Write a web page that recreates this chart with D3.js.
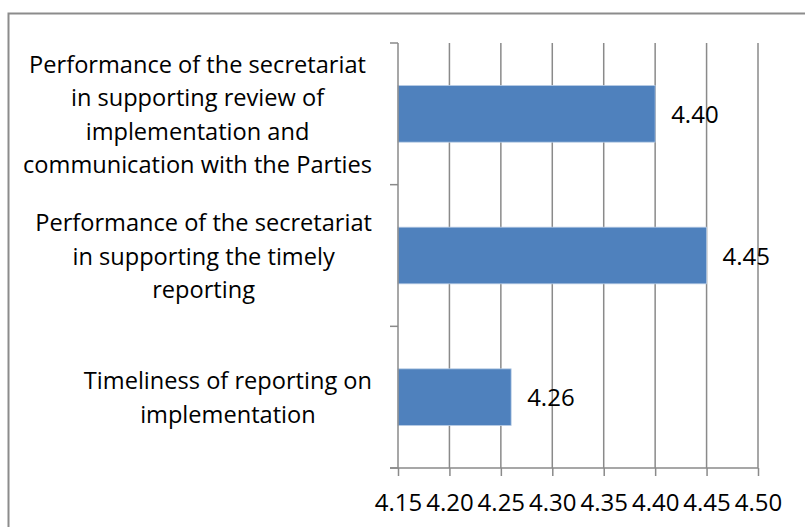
<!DOCTYPE html>
<html>
<head>
<meta charset="utf-8">
<script src="https://cdn.jsdelivr.net/npm/d3@7"></script>
<style>
  body { margin: 0; background: #fff; }
  text { font-family: "Open Sans", "Noto Sans", sans-serif; fill: #000; }
</style>
</head>
<body>
<div id="chart"></div>
<script>
// categories top to bottom, wrapped as in the picture
var categories = [
  "Performance of the secretariat\nin supporting review of\nimplementation and\ncommunication with the Parties",
  "Performance of the secretariat\nin supporting the timely\nreporting",
  "Timeliness of reporting on\nimplementation"
]
var values = [4.40, 4.45, 4.26]
var xTicks = [4.15, 4.20, 4.25, 4.30, 4.35, 4.40, 4.45, 4.50]

var width = 805, height = 527
var svg = d3.select("#chart").append("svg").attr("width", width).attr("height", height)

// chart border
svg.append("rect")
  .attr("x", 8.5).attr("y", 13.5)
  .attr("width", 820).attr("height", 540)
  .attr("fill", "none").attr("stroke", "#8c8c8c").attr("stroke-width", 2)

var x = d3.scaleLinear().domain([4.15, 4.50]).range([398, 758])
var y = d3.scaleBand().domain(categories).range([43, 468])
  .paddingInner(0.6).paddingOuter(0.3)
var step = y.step()

// gridlines
svg.append("g").selectAll("line")
  .data(xTicks.slice(1))
  .enter().append("line")
    .attr("x1", function(d){ return x(d) }).attr("x2", function(d){ return x(d) })
    .attr("y1", 43).attr("y2", 468)
    .attr("stroke", "#8a8a8a").attr("stroke-width", 1.5)

// bars
svg.append("g").selectAll("rect")
  .data(values)
  .enter().append("rect")
    .attr("x", x(4.15))
    .attr("y", function(d, i){ return y(categories[i]) })
    .attr("width", function(d){ return x(d) - x(4.15) })
    .attr("height", y.bandwidth())
    .attr("fill", "#4f81bd")
    .attr("stroke", "#b9cde5").attr("stroke-width", 0.8)

// x axis
var xAxis = d3.axisBottom(x).tickValues(xTicks).tickSize(8)
  .tickFormat(d3.format(".2f"))
var gx = svg.append("g").attr("transform", "translate(0,468)").call(xAxis)
gx.select(".domain").remove()
gx.selectAll("line").attr("stroke", "#8a8a8a").attr("stroke-width", 1.5)
gx.selectAll("text").style("font-size", "24px").style("font-family", "Open Sans")
  .attr("y", 43).attr("dy", 0)
svg.append("line").attr("x1", 390).attr("x2", 758).attr("y1", 468).attr("y2", 468)
  .attr("stroke", "#8a8a8a").attr("stroke-width", 1.5)

// y axis
svg.append("line").attr("x1", 398).attr("x2", 398).attr("y1", 43).attr("y2", 468)
  .attr("stroke", "#8a8a8a").attr("stroke-width", 1.5)
svg.append("g").selectAll("line")
  .data(d3.range(categories.length + 1))
  .enter().append("line")
    .attr("x1", 390).attr("x2", 398)
    .attr("y1", function(i){ return 43 + i * step })
    .attr("y2", function(i){ return 43 + i * step })
    .attr("stroke", "#8a8a8a").attr("stroke-width", 1.5)

// category labels: block right aligned, lines centred
var lineH = 33.5
categories.forEach(function(c, i){
  var lines = c.split("\n")
  var cy = y(c) + y.bandwidth() / 2
  var g = svg.append("g")
  var t = g.selectAll("text").data(lines).enter().append("text")
    .attr("text-anchor", "middle")
    .style("font-size", "23.6px")
    .attr("y", function(d, j){ return cy + (j - (lines.length - 1) / 2) * lineH + 9 })
    .text(function(d){ return d })
  var w = d3.max(t.nodes(), function(n){ return n.getComputedTextLength() })
  t.attr("x", 372 - w / 2)
})

// data labels
svg.append("g").selectAll("text")
  .data(values)
  .enter().append("text")
    .attr("x", function(d){ return x(d) + 16 })
    .attr("y", function(d, i){ return y(categories[i]) + y.bandwidth() / 2 + 9 })
    .style("font-size", "24px")
    .text(function(d){ return d3.format(".2f")(d) })
</script>
</body>
</html>
